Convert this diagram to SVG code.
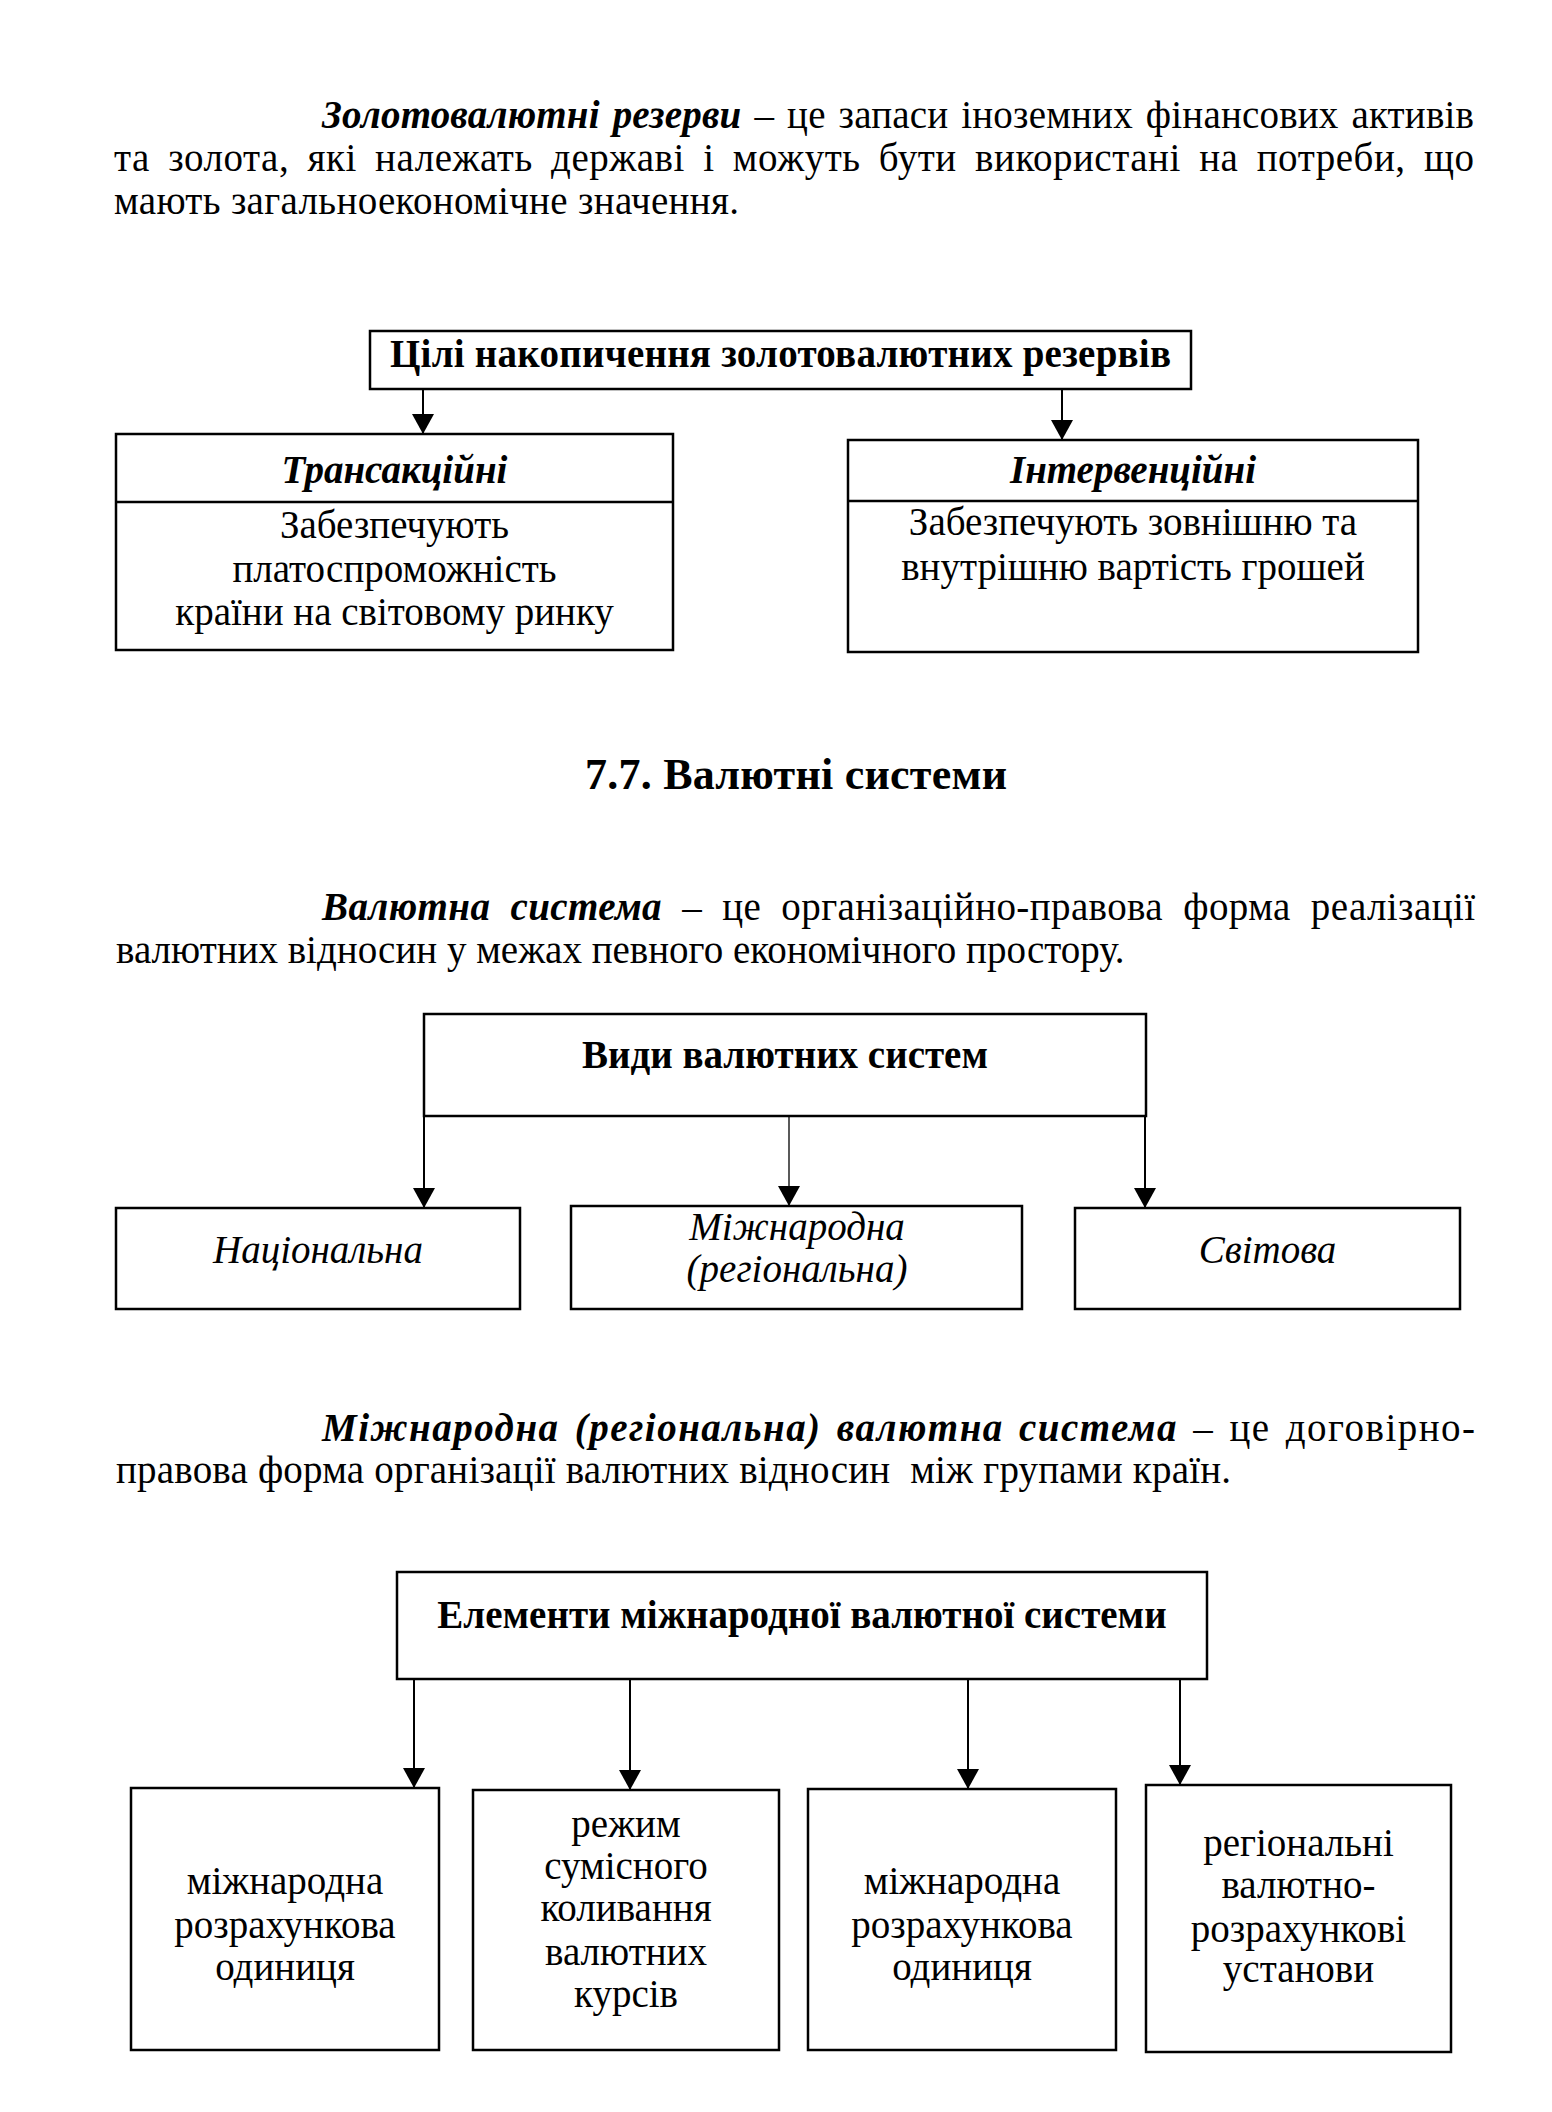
<svg xmlns="http://www.w3.org/2000/svg" width="1552" height="2112" viewBox="0 0 1552 2112">
<defs>
<style>
.box{fill:#fff;stroke:#000;stroke-width:2.5}
.div{stroke:#000;stroke-width:2.5}
.conn{stroke:#000;stroke-width:2;fill:none;marker-end:url(#ah)}
.thin{stroke-width:1.3}
.t{font-family:"Liberation Serif","Times New Roman",serif;font-size:39px;fill:#000}
.b{font-weight:bold}
.i{font-style:italic}
.c{text-anchor:middle}
.pre{white-space:pre}
</style>
<marker id="ah" viewBox="0 0 20 22" markerWidth="20" markerHeight="22" refX="20" refY="11" orient="auto" markerUnits="userSpaceOnUse">
<path d="M0,0 L20,11 L0,22 Z" fill="#000"/>
</marker>
</defs>
<rect width="1552" height="2112" fill="#fff"/>

<g id="para1" class="t">
<text x="322" y="128" textLength="1152" style="word-spacing:3px"><tspan class="b i">Золотовалютні резерви</tspan> – це запаси іноземних фінансових активів</text>
<text x="114" y="171" textLength="1360" style="word-spacing:8px">та золота, які належать державі і можуть бути використані на потреби, що</text>
<text x="114" y="214" textLength="625">мають загальноекономічне значення.</text>
</g>

<g id="connectors">
<line class="conn" x1="423" y1="389" x2="423" y2="434"/>
<line class="conn" x1="1062" y1="389" x2="1062" y2="440"/>
<line class="conn" x1="424" y1="1116" x2="424" y2="1208"/>
<line class="conn thin" x1="789" y1="1116" x2="789" y2="1206"/>
<line class="conn" x1="1145" y1="1116" x2="1145" y2="1208"/>
<line class="conn" x1="414" y1="1679" x2="414" y2="1788"/>
<line class="conn" x1="630" y1="1679" x2="630" y2="1790"/>
<line class="conn" x1="968" y1="1679" x2="968" y2="1789"/>
<line class="conn" x1="1180" y1="1679" x2="1180" y2="1785"/>
</g>

<g id="goals">
<rect class="box" x="370" y="331" width="821" height="58"/>
<text class="t b c" x="780.5" y="367" textLength="781">Цілі накопичення золотовалютних резервів</text>
</g>

<g id="transact">
<rect class="box" x="116" y="434" width="557" height="216"/>
<line class="div" x1="116" y1="502" x2="673" y2="502"/>
<text class="t b i c" x="394.5" y="483">Трансакційні</text>
<text class="t c" x="394.5" y="538">Забезпечують</text>
<text class="t c" x="394.5" y="582">платоспроможність</text>
<text class="t c" x="394.5" y="625">країни на світовому ринку</text>
</g>

<g id="interv">
<rect class="box" x="848" y="440" width="570" height="212"/>
<line class="div" x1="848" y1="501" x2="1418" y2="501"/>
<text class="t b i c" x="1133" y="483">Інтервенційні</text>
<text class="t c" x="1133" y="535">Забезпечують зовнішню та</text>
<text class="t c" x="1133" y="580">внутрішню вартість грошей</text>
</g>

<g id="heading">
<text class="t b c" x="796" y="789" style="font-size:44px" textLength="422">7.7. Валютні системи</text>
</g>

<g id="para2" class="t">
<text x="322" y="920" textLength="1153" style="word-spacing:10px"><tspan class="b i">Валютна система</tspan> – це організаційно-правова форма реалізації</text>
<text x="116" y="963">валютних відносин у межах певного економічного простору.</text>
</g>

<g id="types">
<rect class="box" x="424" y="1014" width="722" height="102"/>
<text class="t b c" x="785" y="1068">Види валютних систем</text>
</g>
<g id="national">
<rect class="box" x="116" y="1208" width="404" height="101"/>
<text class="t i c" x="318" y="1263">Національна</text>
</g>
<g id="international">
<rect class="box" x="571" y="1206" width="451" height="103"/>
<text class="t i c" x="797" y="1240">Міжнародна</text>
<text class="t i c" x="797" y="1282">(регіональна)</text>
</g>
<g id="world">
<rect class="box" x="1075" y="1208" width="385" height="101"/>
<text class="t i c" x="1267.5" y="1263">Світова</text>
</g>

<g id="para3" class="t">
<text x="322" y="1441" textLength="1153" style="word-spacing:4px"><tspan class="b i">Міжнародна (регіональна) валютна система</tspan> – це договірно-</text>
<text class="pre" x="116" y="1483" textLength="1115">правова форма організації валютних відносин  між групами країн.</text>
</g>

<g id="elements">
<rect class="box" x="397" y="1572" width="810" height="107"/>
<text class="t b c" x="802" y="1628">Елементи міжнародної валютної системи</text>
</g>
<g id="el1">
<rect class="box" x="131" y="1788" width="308" height="262"/>
<text class="t c" x="285" y="1894">міжнародна</text>
<text class="t c" x="285" y="1938">розрахункова</text>
<text class="t c" x="285" y="1980">одиниця</text>
</g>
<g id="el2">
<rect class="box" x="473" y="1790" width="306" height="260"/>
<text class="t c" x="626" y="1837">режим</text>
<text class="t c" x="626" y="1879">сумісного</text>
<text class="t c" x="626" y="1921">коливання</text>
<text class="t c" x="626" y="1965">валютних</text>
<text class="t c" x="626" y="2007">курсів</text>
</g>
<g id="el3">
<rect class="box" x="808" y="1789" width="308" height="261"/>
<text class="t c" x="962" y="1894">міжнародна</text>
<text class="t c" x="962" y="1938">розрахункова</text>
<text class="t c" x="962" y="1980">одиниця</text>
</g>
<g id="el4">
<rect class="box" x="1146" y="1785" width="305" height="267"/>
<text class="t c" x="1298.5" y="1856">регіональні</text>
<text class="t c" x="1298.5" y="1898">валютно-</text>
<text class="t c" x="1298.5" y="1942">розрахункові</text>
<text class="t c" x="1298.5" y="1982">установи</text>
</g>
</svg>
